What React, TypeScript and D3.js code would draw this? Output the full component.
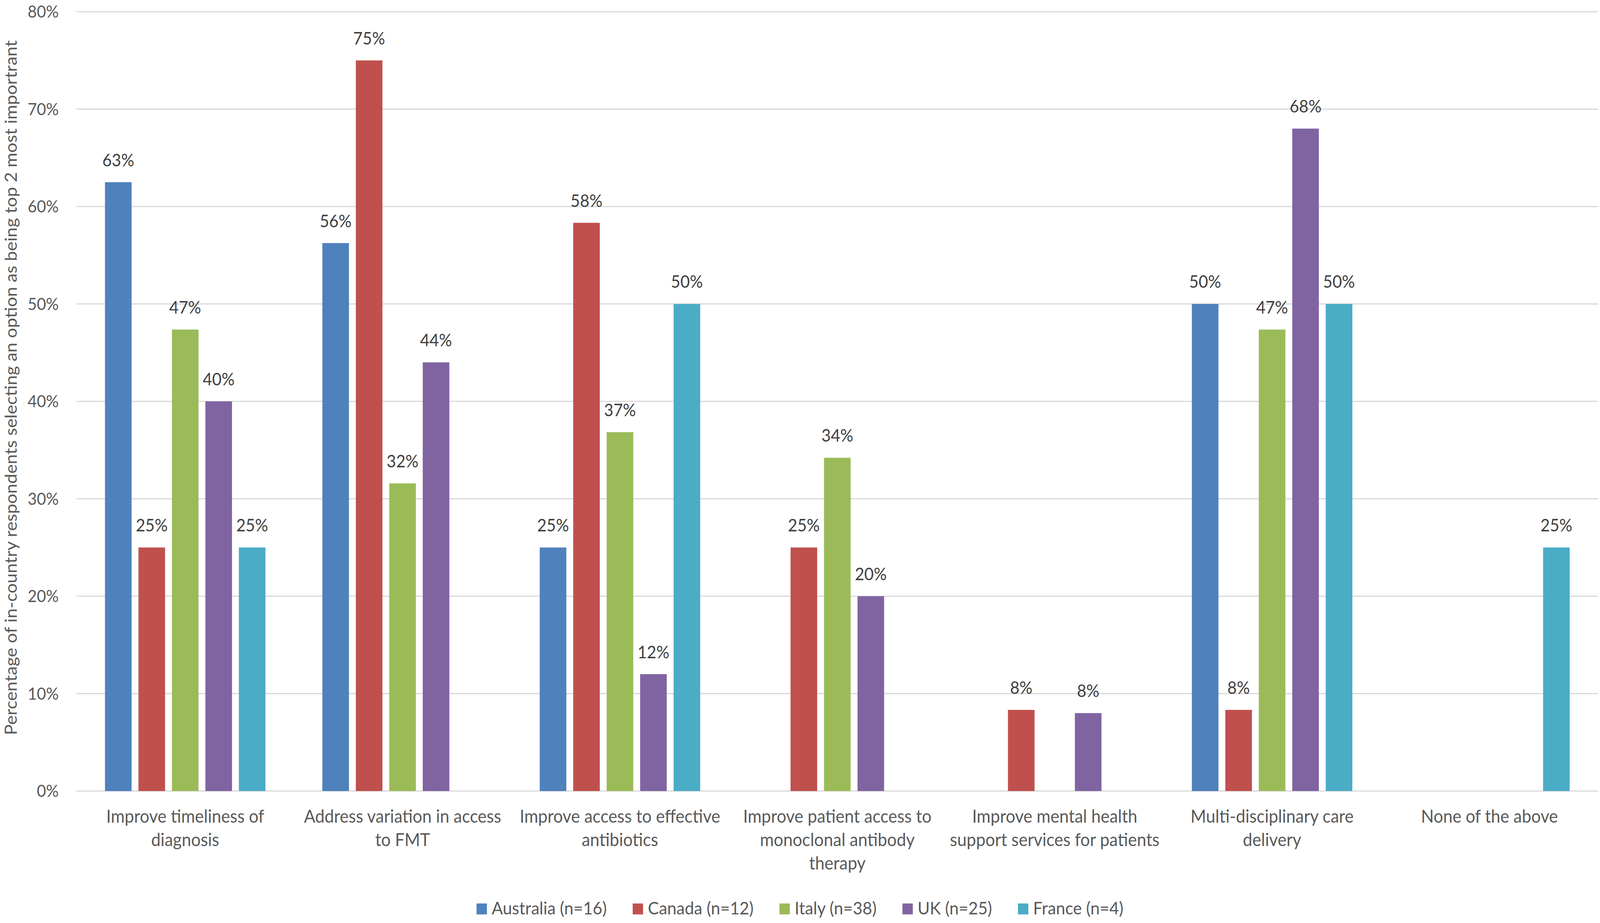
import React, { useEffect, useRef } from "react";
import * as d3 from "d3";

const W = 4328;
const H = 2364;

const categoryLines: string[][] = [
  ["Improve timeliness of", "diagnosis"],
  ["Address variation in access", "to FMT"],
  ["Improve access to effective", "antibiotics"],
  ["Improve patient access to", "monoclonal antibody", "therapy"],
  ["Improve mental health", "support services for patients"],
  ["Multi-disciplinary care", "delivery"],
  ["None of the above"],
];
const categories = categoryLines.map((l) => l.join(" "));

const seriesNames = ["Australia (n=16)", "Canada (n=12)", "Italy (n=38)", "UK (n=25)", "France (n=4)"];
const seriesColors = ["#4F81BD", "#C0504D", "#9BBB59", "#8064A2", "#4BACC6"];

const australia = [62.5, 56.25, 25, 0, 0, 50, 0];
const canada = [25, 75, 58.33, 25, 8.33, 8.33, 0];
const italy = [47.37, 31.58, 36.84, 34.21, 0, 47.37, 0];
const uk = [40, 44, 12, 20, 8, 68, 0];
const france = [25, 0, 50, 0, 0, 50, 25];
const seriesValues = [australia, canada, italy, uk, france];

const yTicks = [0, 10, 20, 30, 40, 50, 60, 70, 80];
const yTitle = "Percentage of in-country respondents selecting an option as being top 2 most importrant";

const FONT = "Lato, 'Noto Sans', sans-serif";
const TEXT = "#595959";

export default function App() {
  const ref = useRef<SVGSVGElement | null>(null);

  useEffect(() => {
    document.body.style.margin = "0";
    document.body.style.overflow = "hidden";
    const svg = d3.select(ref.current);
    svg.selectAll("*").remove();

    const left = 207;
    const right = 4323;
    const top = 30;
    const bottom = 2026;

    const x0 = d3.scaleBand<string>().domain(categories).range([left, right]).paddingInner(0).paddingOuter(0);
    const x1 = d3
      .scaleBand<string>()
      .domain(seriesNames)
      .range([0, x0.bandwidth()])
      .paddingInner(0.205)
      .paddingOuter(0.85);
    const y = d3.scaleLinear().domain([0, 80]).range([bottom, top]);

    svg.append("rect").attr("width", W).attr("height", H).attr("fill", "#ffffff");

    svg
      .append("g")
      .selectAll("line")
      .data(yTicks)
      .join("line")
      .attr("x1", left)
      .attr("x2", right)
      .attr("y1", (d) => y(d))
      .attr("y2", (d) => y(d))
      .attr("stroke", "#D9D9D9")
      .attr("stroke-width", 3);

    svg
      .append("g")
      .selectAll("text")
      .data(yTicks)
      .join("text")
      .attr("x", 159)
      .attr("y", (d) => y(d))
      .attr("dy", "0.36em")
      .attr("text-anchor", "end")
      .attr("font-family", FONT)
      .attr("font-size", 43)
      .attr("fill", TEXT)
      .text((d) => `${d}%`);

    svg
      .append("text")
      .attr("transform", `translate(45,993) rotate(-90)`)
      .attr("text-anchor", "middle")
      .attr("font-family", FONT)
      .attr("font-size", 45.8)
      .attr("fill", TEXT)
      .text(yTitle);

    const flat: { cat: string; ser: string; v: number; i: number }[] = [];
    categories.forEach((c, ci) =>
      seriesNames.forEach((s, si) => flat.push({ cat: c, ser: s, v: seriesValues[si][ci], i: si }))
    );
    const nonzero = flat.filter((d) => d.v > 0);

    svg
      .append("g")
      .selectAll("rect")
      .data(nonzero)
      .join("rect")
      .attr("x", (d) => (x0(d.cat) as number) + (x1(d.ser) as number))
      .attr("y", (d) => y(d.v))
      .attr("width", x1.bandwidth())
      .attr("height", (d) => y(0) - y(d.v))
      .attr("fill", (d) => seriesColors[d.i]);

    svg
      .append("g")
      .selectAll("text")
      .data(nonzero)
      .join("text")
      .attr("x", (d) => (x0(d.cat) as number) + (x1(d.ser) as number) + x1.bandwidth() / 2)
      .attr("y", (d) => y(d.v) - 41)
      .attr("text-anchor", "middle")
      .attr("font-family", FONT)
      .attr("font-size", 44)
      .attr("fill", "#404040")
      .text((d) => `${Math.round(d.v)}%`);

    const cg = svg.append("g");
    categoryLines.forEach((lines, ci) => {
      const cx = (x0(categories[ci]) as number) + x0.bandwidth() / 2;
      const t = cg
        .append("text")
        .attr("text-anchor", "middle")
        .attr("font-family", FONT)
        .attr("font-size", 45.5)
        .attr("fill", TEXT);
      lines.forEach((ln, li) => {
        t.append("tspan").attr("x", cx).attr("y", 2107 + li * 60).text(ln);
      });
    });

    const lg = svg.append("g");
    const items = seriesNames.map((s, i) => {
      const g = lg.append("g");
      g.append("rect").attr("width", 28).attr("height", 28).attr("y", -28).attr("fill", seriesColors[i]);
      const t = g
        .append("text")
        .attr("x", 41)
        .attr("y", 0)
        .attr("font-family", FONT)
        .attr("font-size", 45)
        .attr("fill", TEXT)
        .text(s);
      const w = (t.node() as SVGTextElement).getComputedTextLength();
      return { g, w: 41 + w };
    });
    const gap = 70;
    const total = d3.sum(items, (d) => d.w) + gap * (items.length - 1);
    let cx = 2164 - total / 2;
    items.forEach((it) => {
      it.g.attr("transform", `translate(${cx},2342)`);
      cx += it.w + gap;
    });
  }, []);

  return (
    <svg
      ref={ref}
      viewBox={`0 0 ${W} ${H}`}
      preserveAspectRatio="none"
      style={{ position: "absolute", left: 0, top: 0, width: "100vw", height: "100vh", display: "block" }}
    />
  );
}
